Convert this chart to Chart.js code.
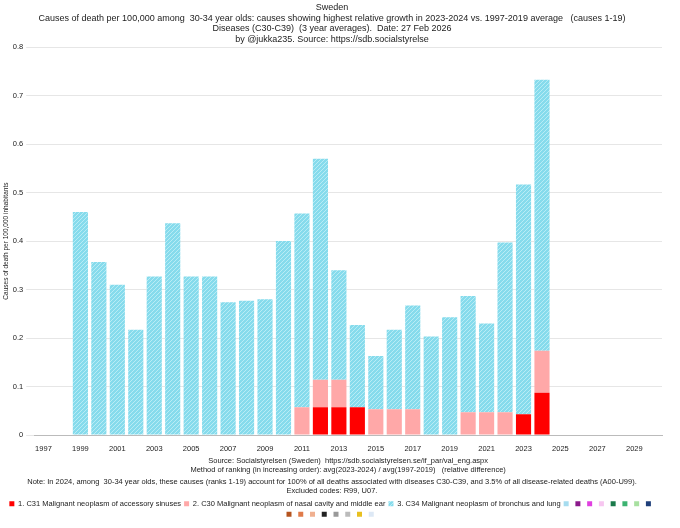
<!DOCTYPE html>
<html>
<head>
<meta charset="utf-8">
<script src="https://cdn.jsdelivr.net/npm/chart.js@4"></script>
<style>
  html, body { margin: 0; padding: 0; background: #fff; }
  #wrap { width: 680px; height: 528px; }
</style>
</head>
<body>
<div id="wrap"><canvas id="chart"></canvas></div>
<script>
const years = [];
for (let y = 1997; y <= 2030; y++) years.push(String(y));

// values per year, 1997..2024 (later years empty)
const totals = [0, 0, 0.46, 0.357, 0.31, 0.217, 0.327, 0.437, 0.327, 0.327, 0.274, 0.277, 0.28, 0.40,
  0.457, 0.57, 0.34, 0.227, 0.163, 0.217, 0.267, 0.203, 0.243, 0.287, 0.23, 0.397, 0.517, 0.733];
const c31 = [0, 0, 0, 0, 0, 0, 0, 0, 0, 0, 0, 0, 0, 0,
  0, 0.057, 0.057, 0.057, 0, 0, 0, 0, 0, 0, 0, 0, 0.043, 0.087];
const c30 = [0, 0, 0, 0, 0, 0, 0, 0, 0, 0, 0, 0, 0, 0,
  0.057, 0.057, 0.057, 0, 0.053, 0.053, 0.053, 0, 0, 0.047, 0.047, 0.047, 0, 0.087];
const c34 = totals.map((t, i) => +(t - c31[i] - c30[i]).toFixed(3));

const extraColors = ['#a6dcef', '#8b1a8b', '#e040e0', '#f7c6f0', '#1a7a4a', '#3cb371', '#a8e0a0',
  '#1f3f7a', '#b5541f', '#e07b4a', '#f0b090', '#222222', '#999999', '#bbbbbb', '#e8c020', '#dde8f5'];

function hatch() {
  const c = document.createElement('canvas');
  c.width = 4; c.height = 4;
  const g = c.getContext('2d');
  g.fillStyle = '#86dbec';
  g.fillRect(0, 0, 4, 4);
  g.strokeStyle = '#b8ecf5';
  g.lineWidth = 1;
  g.beginPath(); g.moveTo(0, 4); g.lineTo(4, 0); g.stroke();
  return g.createPattern(c, 'repeat');
}

const font = "'Liberation Sans Narrow', 'Liberation Sans', sans-serif";
Chart.defaults.font.family = font;
Chart.defaults.font.size = 8;
Chart.defaults.color = '#222';

const datasets = [
  { label: '1. C31 Malignant neoplasm of accessory sinuses', data: c31, backgroundColor: '#ff0000' },
  { label: '2. C30 Malignant neoplasm of nasal cavity and middle ear', data: c30, backgroundColor: '#ffa8a8' },
  { label: '3. C34 Malignant neoplasm of bronchus and lung', data: c34, backgroundColor: hatch() }
];
extraColors.forEach(col => datasets.push({ label: '', data: [], backgroundColor: col }));

new Chart(document.getElementById('chart'), {
  type: 'bar',
  data: { labels: years, datasets: datasets },
  options: {
    responsive: true,
    maintainAspectRatio: false,
    animation: false,
    layout: { padding: { left: 2, right: 18, top: 0, bottom: 0 } },
    datasets: { bar: { categoryPercentage: 1, barPercentage: 0.82 } },
    plugins: {
      title: {
        display: true,
        text: ['Sweden',
          'Causes of death per 100,000 among  30-34 year olds: causes showing highest relative growth in 2023-2024 vs. 1997-2019 average   (causes 1-19)',
          'Diseases (C30-C39)  (3 year averages).  Date: 27 Feb 2026',
          'by @jukka235. Source: https://sdb.socialstyrelse'],
        font: { size: 9, weight: 'normal' },
        lineHeight: 1.3,
        padding: { top: 2, bottom: 2 }
      },
      subtitle: {
        display: true,
        position: 'bottom',
        weight: 500,
        text: ['Note: In 2024, among  30-34 year olds, these causes (ranks 1-19) account for 100% of all deaths associated with diseases C30-C39, and 3.5% of all disease-related deaths (A00-U99).',
          'Excluded codes: R99, U07.'],
        font: { size: 7.5 },
        lineHeight: 1.4,
        padding: { top: 3, bottom: 2 }
      },
      legend: {
        position: 'bottom',
        labels: { boxWidth: 5, boxHeight: 5, padding: 3, font: { size: 7.5 } }
      },
      tooltip: { enabled: false }
    },
    scales: {
      x: {
        stacked: true,
        grid: { display: false },
        border: { color: '#bbb' },
        ticks: {
          autoSkip: false,
          maxRotation: 0,
          padding: 1,
          font: { size: 7.5 },
          callback: function (v, i) { return i % 2 === 0 ? this.getLabelForValue(v) : ''; }
        },
        title: {
          display: true,
          text: ['Source: Socialstyrelsen (Sweden)  https://sdb.socialstyrelsen.se/if_par/val_eng.aspx',
            'Method of ranking (in increasing order): avg(2023-2024) / avg(1997-2019)   (relative difference)'],
          font: { size: 7.5 },
          padding: { top: 2, bottom: 0 }
        }
      },
      y: {
        stacked: true,
        min: 0,
        max: 0.8,
        ticks: { stepSize: 0.1, font: { size: 7.5 } },
        grid: { color: '#e6e6e6' },
        border: { display: false },
        title: { display: true, text: 'Causes of death per 100,000 inhabitants', font: { size: 6.5 }, padding: 0 }
      }
    }
  }
});
</script>
</body>
</html>
